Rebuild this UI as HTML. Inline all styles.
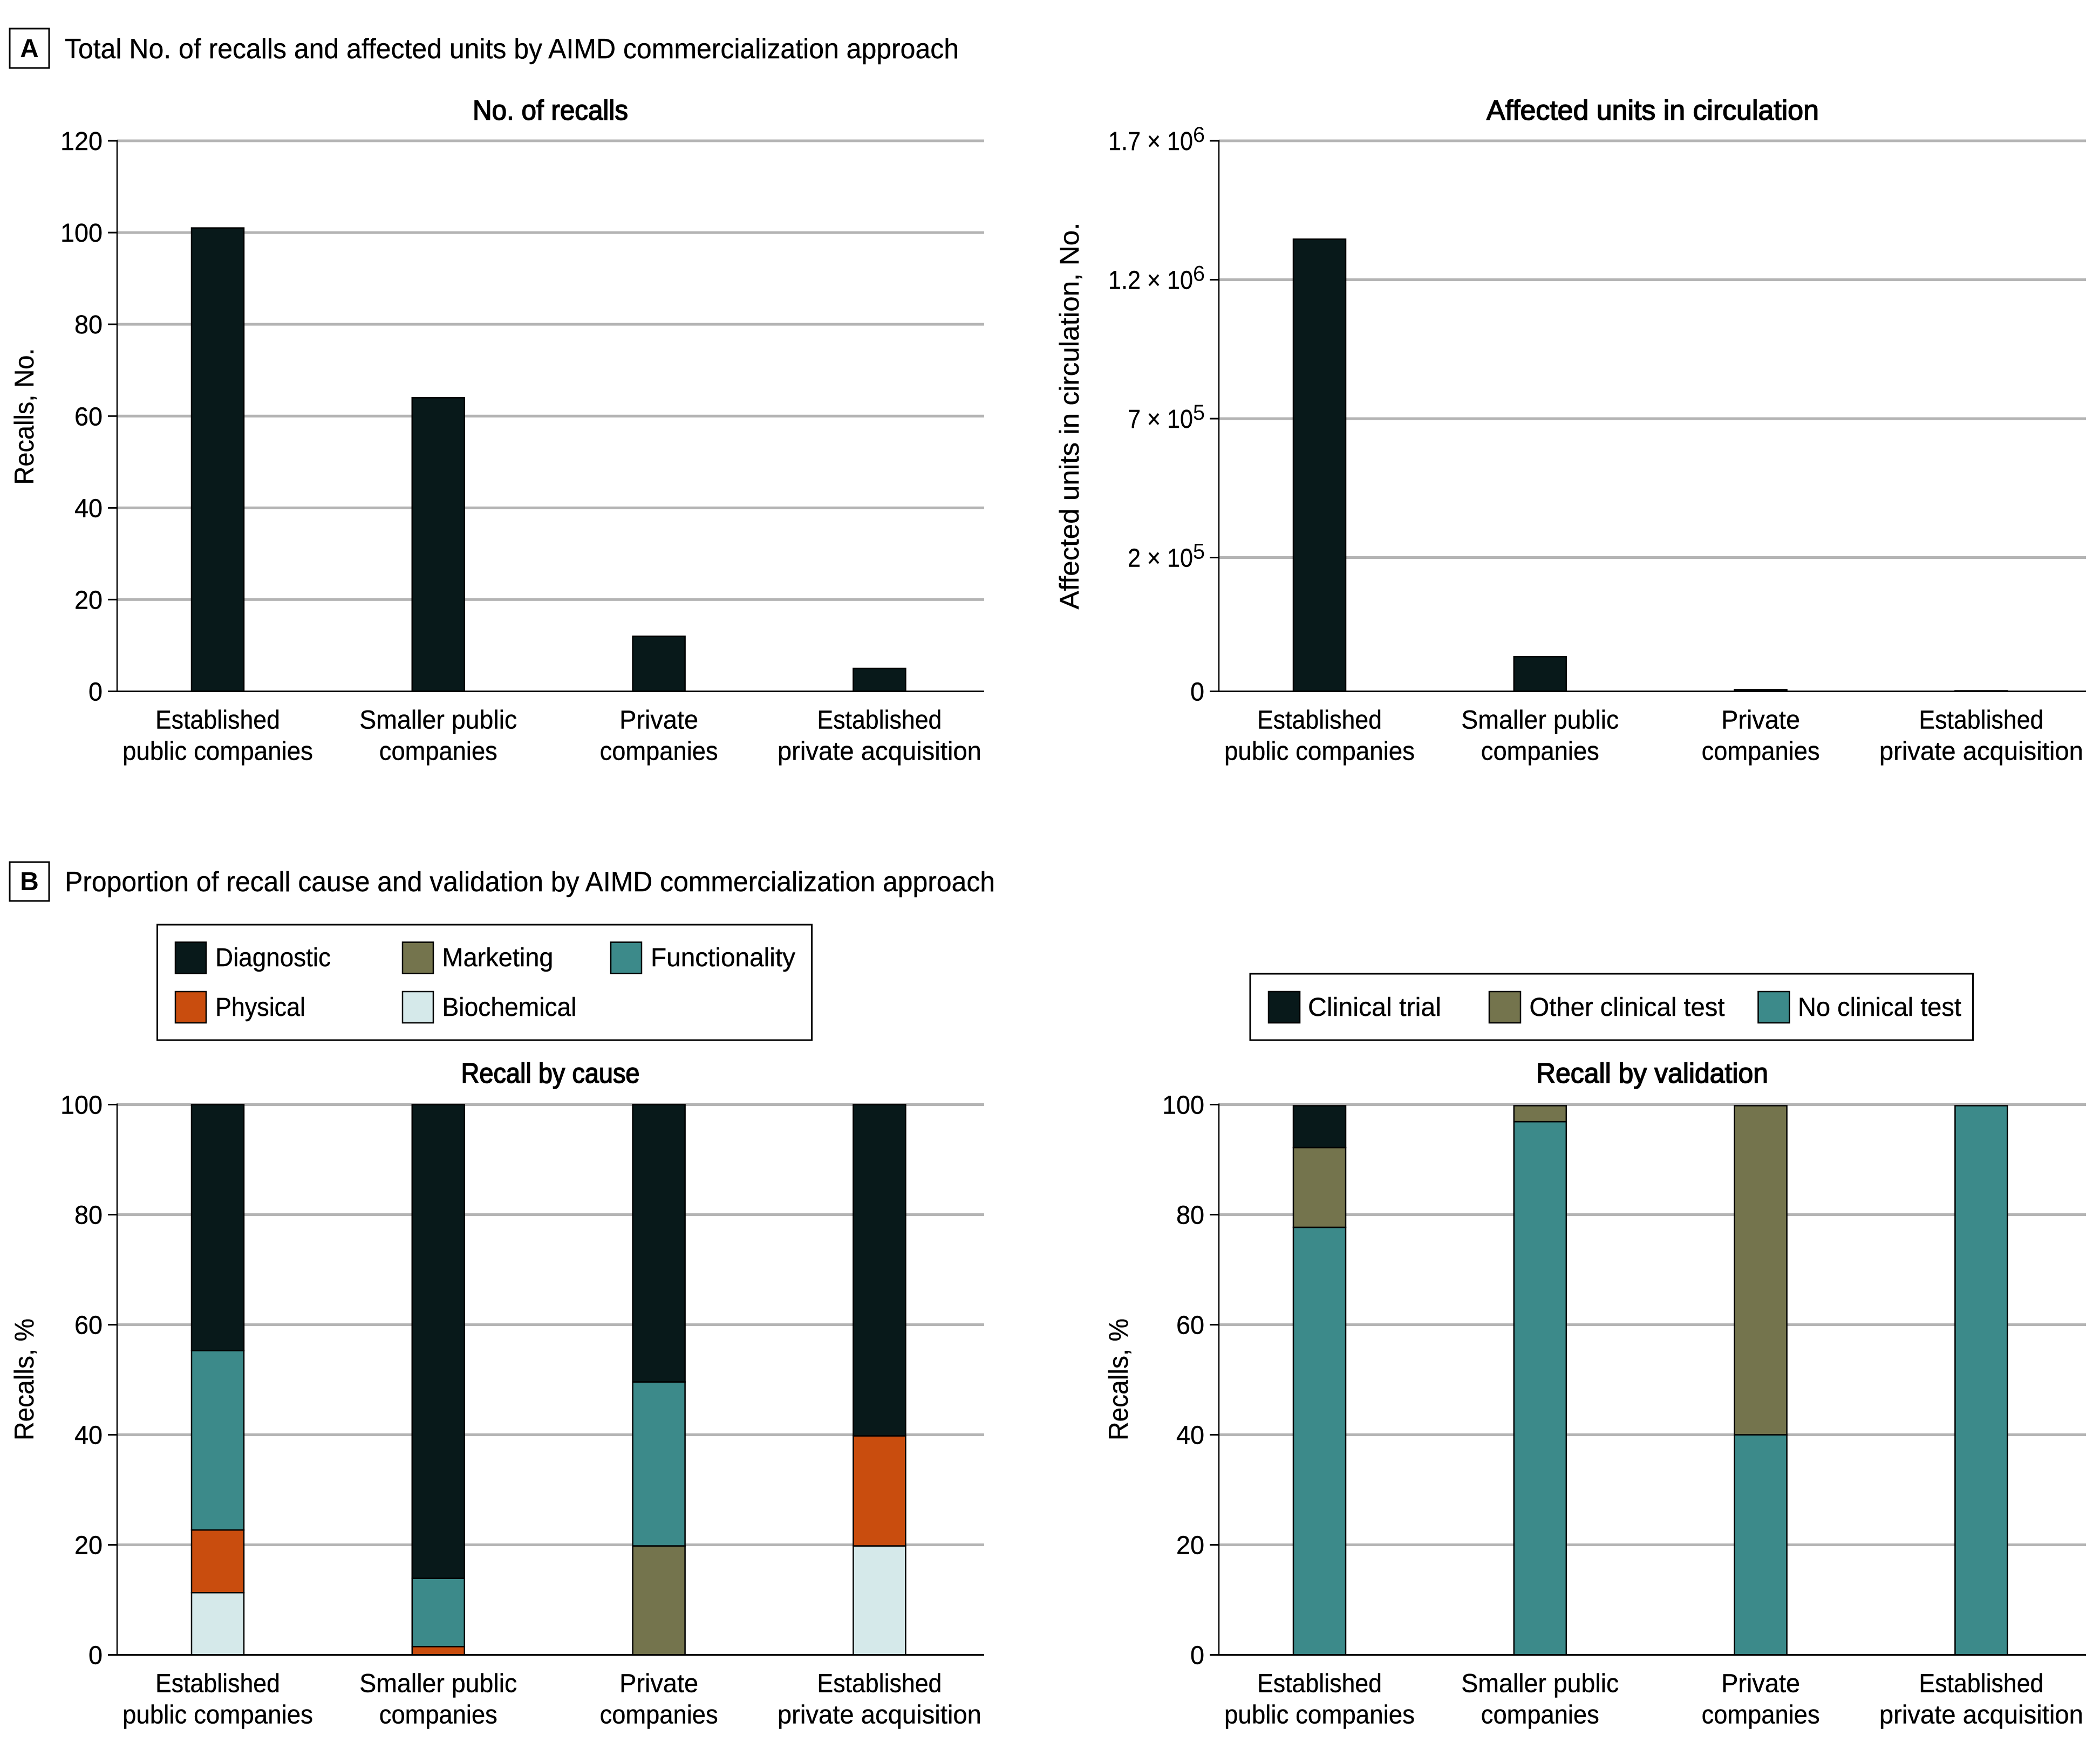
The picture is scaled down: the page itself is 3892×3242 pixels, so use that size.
<!DOCTYPE html>
<html lang="en">
<head>
<meta charset="utf-8">
<title>AIMD recalls by commercialization approach</title>
<style>
  html,body{margin:0;padding:0;background:#fff;}
  svg{display:block;}
  text{font-family:"Liberation Sans",Arial,sans-serif;fill:#000;}
  .head{font-size:52px;stroke:#000;stroke-width:.4px;}
  .sub{font-size:52px;stroke:#000;stroke-width:1.6px;}
  .lbl{font-size:48px;stroke:#000;stroke-width:.4px;}
  .ytitle{font-size:50px;stroke:#000;stroke-width:.4px;}
  .letter{font-size:48px;font-weight:bold;}
</style>
</head>
<body>
<svg id="figure" xmlns="http://www.w3.org/2000/svg" width="3892" height="3242" viewBox="0 0 3892 3242">
  <rect x="0" y="0" width="3892" height="3242" fill="#fff"/>

  <g>
    <rect x="18" y="53" width="73" height="73" fill="#fff" stroke="#000" stroke-width="3"/>
    <text class="letter" x="54.5" y="106" text-anchor="middle">A</text>
    <text class="head" x="120" y="108" textLength="1657" lengthAdjust="spacingAndGlyphs">Total No. of recalls and affected units by AIMD commercialization approach</text>
  </g>
  <g>
    <rect x="18" y="1598" width="73" height="72" fill="#fff" stroke="#000" stroke-width="3"/>
    <text class="letter" x="54.5" y="1650" text-anchor="middle">B</text>
    <text class="head" x="120" y="1652" textLength="1724" lengthAdjust="spacingAndGlyphs">Proportion of recall cause and validation by AIMD commercialization approach</text>
  </g>

  <text class="sub" x="1020" y="222" text-anchor="middle" textLength="288" lengthAdjust="spacingAndGlyphs">No. of recalls</text>
  <text class="sub" x="3063" y="222" text-anchor="middle" textLength="616" lengthAdjust="spacingAndGlyphs">Affected units in circulation</text>
  <text class="sub" x="1020" y="2007" text-anchor="middle" textLength="331" lengthAdjust="spacingAndGlyphs">Recall by cause</text>
  <text class="sub" x="3062" y="2007" text-anchor="middle" textLength="430" lengthAdjust="spacingAndGlyphs">Recall by validation</text>

  <text class="ytitle" transform="translate(62,772) rotate(-90)" text-anchor="middle" textLength="253" lengthAdjust="spacingAndGlyphs">Recalls, No.</text>
  <text class="ytitle" transform="translate(1999,771) rotate(-90)" text-anchor="middle" textLength="717" lengthAdjust="spacingAndGlyphs">Affected units in circulation, No.</text>
  <text class="ytitle" transform="translate(62,2557) rotate(-90)" text-anchor="middle" textLength="226" lengthAdjust="spacingAndGlyphs">Recalls, %</text>
  <text class="ytitle" transform="translate(2090,2557) rotate(-90)" text-anchor="middle" textLength="226" lengthAdjust="spacingAndGlyphs">Recalls, %</text>

  <g>
    <rect x="291.5" y="1714" width="1213" height="214" fill="#fff" stroke="#000" stroke-width="3"/>
    <g>
      <rect x="325" y="1746.5" width="57" height="58" fill="#08191a" stroke="#000" stroke-width="2.5"/>
      <text class="lbl" x="399" y="1791" textLength="214" lengthAdjust="spacingAndGlyphs">Diagnostic</text>
    </g>
    <g>
      <rect x="746" y="1746.5" width="57" height="58" fill="#74744d" stroke="#000" stroke-width="2.5"/>
      <text class="lbl" x="819.5" y="1791" textLength="206" lengthAdjust="spacingAndGlyphs">Marketing</text>
    </g>
    <g>
      <rect x="1132" y="1746.5" width="57" height="58" fill="#3c8a8a" stroke="#000" stroke-width="2.5"/>
      <text class="lbl" x="1206" y="1791" textLength="268" lengthAdjust="spacingAndGlyphs">Functionality</text>
    </g>
    <g>
      <rect x="325" y="1838" width="57" height="58" fill="#c94d0e" stroke="#000" stroke-width="2.5"/>
      <text class="lbl" x="399" y="1883" textLength="167" lengthAdjust="spacingAndGlyphs">Physical</text>
    </g>
    <g>
      <rect x="746" y="1838" width="57" height="58" fill="#d5e9ea" stroke="#000" stroke-width="2.5"/>
      <text class="lbl" x="819.5" y="1883" textLength="249" lengthAdjust="spacingAndGlyphs">Biochemical</text>
    </g>
  </g>

  <g>
    <rect x="2317" y="1805" width="1339.5" height="123" fill="#fff" stroke="#000" stroke-width="3"/>
    <g>
      <rect x="2351" y="1838" width="58" height="58" fill="#08191a" stroke="#000" stroke-width="2.5"/>
      <text class="lbl" x="2424" y="1883" textLength="247" lengthAdjust="spacingAndGlyphs">Clinical trial</text>
    </g>
    <g>
      <rect x="2760" y="1838" width="58" height="58" fill="#74744d" stroke="#000" stroke-width="2.5"/>
      <text class="lbl" x="2834.5" y="1883" textLength="362" lengthAdjust="spacingAndGlyphs">Other clinical test</text>
    </g>
    <g>
      <rect x="3258.5" y="1838" width="58" height="58" fill="#3c8a8a" stroke="#000" stroke-width="2.5"/>
      <text class="lbl" x="3332" y="1883" textLength="303" lengthAdjust="spacingAndGlyphs">No clinical test</text>
    </g>
  </g>
</svg>

<script>
// ---- Data ----
const categoryFirstLines = ["Established", "Smaller public", "Private", "Established"];
const categorySecondLines = ["public companies", "companies", "companies", "private acquisition"];

const recallCounts = [101, 64, 12, 5];
const recallTickValues = [0, 20, 40, 60, 80, 100, 120];
const recallTickLabels = ["0", "20", "40", "60", "80", "100", "120"];

const affectedUnits = [1346000, 51900, 2500, 800];
const unitTickValues = [0, 200000, 700000, 1200000, 1700000];
const unitTickLabels = ["0", "2 × 10", "7 × 10", "1.2 × 10", "1.7 × 10"];
const unitTickExponents = ["", "5", "5", "6", "6"];

const percentTickValues = [0, 20, 40, 60, 80, 100];
const percentTickLabels = ["0", "20", "40", "60", "80", "100"];

// Recall by cause, % of recalls per category (stacked bottom to top)
const causeBiochemical = [11.3, 0, 0, 19.8];
const causeMarketing = [0, 0, 19.8, 0];
const causePhysical = [11.4, 1.5, 0, 20];
const causeFunctionality = [32.6, 12.4, 29.8, 0];
const causeDiagnostic = [44.7, 86.1, 50.4, 60.2];

// Recall by validation, % of recalls per category (stacked bottom to top)
const validationNoTest = [77.7, 96.9, 40, 99.8];
const validationOtherTest = [14.5, 2.9, 59.8, 0];
const validationTrial = [7.6, 0, 0, 0];

// ---- Styles and layout ----
const COLOR_DARK = "#08191a", COLOR_OLIVE = "#74744d", COLOR_TEAL = "#3c8a8a",
      COLOR_ORANGE = "#c94d0e", COLOR_PALE = "#d5e9ea";
const PLOT_WIDTH = 1607, FIRST_BAND = 186.5, BAND_STEP = 408.8, BAR_WIDTH = 97;
const UNIT_BREAK_Y = 1033.5;
const tickTextWidths = {"1.2 × 10": 157, "1.7 × 10": 157, "2 × 10": 121, "7 × 10": 121};
const categoryTextWidths = {
  "Established": 231, "Smaller public": 292, "Private": 146,
  "public companies": 353, "companies": 219, "private acquisition": 378
};

const svg = document.getElementById("figure");
const NS = "http://www.w3.org/2000/svg";

function make(tag, parent, props) {
  const el = document.createElementNS(NS, tag);
  for (const key in props) el.setAttribute(key, props[key]);
  parent.appendChild(el);
  return el;
}

function linearAxis(domainMax, top, bottom) {
  return v => bottom - (v / domainMax) * (bottom - top);
}

// The affected-units axis is linear above its first nonzero tick and has its own
// compressed segment between that tick and zero.
function brokenAxis(values, top, breakY, bottom) {
  const low = values[1], high = values[values.length - 1];
  return v => v <= low
    ? bottom - (v / low) * (bottom - breakY)
    : breakY - ((v - low) / (high - low)) * (breakY - top);
}

function bandCenter(left, i) {
  return left + FIRST_BAND + BAND_STEP * i;
}

function drawAxes(chart, left, top, bottom, tickValues, tickLabels, y) {
  const right = left + PLOT_WIDTH;
  const root = make("g", svg, {});
  
  

  tickValues.forEach((v, i) => {
    if (v === 0) return;
    const grid = make("line", root, {x1: left, x2: right, y1: y(v), y2: y(v), stroke: "#b4b4b4", "stroke-width": 5});
    
    
  });
  const bars = make("g", root, {});
  
  

  const axis = make("line", root, {x1: left, x2: left, y1: top - 2, y2: bottom, stroke: "#000", "stroke-width": 2.5});
  
  
  const base = make("line", root, {x1: left - 17, x2: right, y1: bottom, y2: bottom, stroke: "#000", "stroke-width": 3});
  
  

  tickValues.forEach((v, i) => {
    const tick = make("line", root, {x1: left - 17, x2: left, y1: y(v), y2: y(v), stroke: "#000", "stroke-width": 3});
    
    
  });

  categoryFirstLines.forEach((first, i) => {
    const cx = bandCenter(left, i);
    const label = make("g", root, {});
    
    
    const t1 = make("text", label, {class: "lbl", x: cx, y: bottom + 69, "text-anchor": "middle",
      textLength: categoryTextWidths[first], lengthAdjust: "spacingAndGlyphs"});
    t1.textContent = first;
    const second = categorySecondLines[i];
    const t2 = make("text", label, {class: "lbl", x: cx, y: bottom + 127, "text-anchor": "middle",
      textLength: categoryTextWidths[second], lengthAdjust: "spacingAndGlyphs"});
    t2.textContent = second;
  });
  return bars;
}

function drawPlainTickLabels(chart, left, tickValues, tickLabels, y) {
  tickValues.forEach((v, i) => {
    const t = make("text", svg, {class: "lbl", x: left - 27, y: y(v) + 17, "text-anchor": "end",
      textLength: tickLabels[i].length * 26, lengthAdjust: "spacingAndGlyphs"});
    
    
    t.textContent = tickLabels[i];
  });
}

function drawBar(parent, left, i, y, from, to, fill, name) {
  const r = make("rect", parent, {
    x: bandCenter(left, i) - BAR_WIDTH / 2, width: BAR_WIDTH,
    y: y(to), height: Math.max(0, y(from) - y(to)),
    fill: fill, stroke: "#000", "stroke-width": 2.5
  });
  
  
}

function drawStacks(parent, left, y, series) {
  categoryFirstLines.forEach((_, i) => {
    let running = 0;
    series.forEach(s => {
      const v = s.values[i];
      if (v > 0) drawBar(parent, left, i, y, running, running + v, s.fill, "bar-" + s.key + "-" + i);
      running += v;
    });
  });
}

// ---- Panel A: number of recalls ----
const LEFT_A1 = 217, TOP_A = 261, BOTTOM_A = 1281.5;
const yRecalls = linearAxis(120, TOP_A, BOTTOM_A);
const recallBars = drawAxes("recalls", LEFT_A1, TOP_A, BOTTOM_A, recallTickValues, recallTickLabels, yRecalls);
recallCounts.forEach((v, i) => drawBar(recallBars, LEFT_A1, i, yRecalls, 0, v, COLOR_DARK, "bar-recalls-" + i));
drawPlainTickLabels("recalls", LEFT_A1, recallTickValues, recallTickLabels, yRecalls);

// ---- Panel A: affected units ----
const LEFT_A2 = 2259;
const yUnits = brokenAxis(unitTickValues, TOP_A, UNIT_BREAK_Y, BOTTOM_A);
const unitBars = drawAxes("units", LEFT_A2, TOP_A, BOTTOM_A, unitTickValues, unitTickLabels, yUnits);
affectedUnits.forEach((v, i) => drawBar(unitBars, LEFT_A2, i, yUnits, 0, v, COLOR_DARK, "bar-units-" + i));
unitTickValues.forEach((v, i) => {
  const hasExp = unitTickExponents[i] !== "";
  const props = {class: "lbl", x: hasExp ? LEFT_A2 - 48 : LEFT_A2 - 27, y: yUnits(v) + 17, "text-anchor": "end"};
  if (hasExp) {
    props.textLength = tickTextWidths[unitTickLabels[i]];
    props.lengthAdjust = "spacingAndGlyphs";
  } else {
    props.textLength = 26;
    props.lengthAdjust = "spacingAndGlyphs";
  }
  const t = make("text", svg, props);
  
  
  t.textContent = unitTickLabels[i];
  if (hasExp) {
    const e = make("text", svg, {x: LEFT_A2 - 48, y: yUnits(v) + 2, "font-size": 40, textLength: 22, lengthAdjust: "spacingAndGlyphs"});
    
    
    e.textContent = unitTickExponents[i];
  }
});

// ---- Panel B: recall by cause ----
const LEFT_B1 = 217, TOP_B = 2047.5, BOTTOM_B = 3067.5;
const yCause = linearAxis(100, TOP_B, BOTTOM_B);
const causeBars = drawAxes("cause", LEFT_B1, TOP_B, BOTTOM_B, percentTickValues, percentTickLabels, yCause);
drawStacks(causeBars, LEFT_B1, yCause, [
  {key: "biochemical", values: causeBiochemical, fill: COLOR_PALE},
  {key: "marketing", values: causeMarketing, fill: COLOR_OLIVE},
  {key: "physical", values: causePhysical, fill: COLOR_ORANGE},
  {key: "functionality", values: causeFunctionality, fill: COLOR_TEAL},
  {key: "diagnostic", values: causeDiagnostic, fill: COLOR_DARK}
]);
drawPlainTickLabels("cause", LEFT_B1, percentTickValues, percentTickLabels, yCause);

// ---- Panel B: recall by validation ----
const LEFT_B2 = 2259;
const yValidation = linearAxis(100, TOP_B, BOTTOM_B);
const validationBars = drawAxes("validation", LEFT_B2, TOP_B, BOTTOM_B, percentTickValues, percentTickLabels, yValidation);
drawStacks(validationBars, LEFT_B2, yValidation, [
  {key: "no-clinical-test", values: validationNoTest, fill: COLOR_TEAL},
  {key: "other-clinical-test", values: validationOtherTest, fill: COLOR_OLIVE},
  {key: "clinical-trial", values: validationTrial, fill: COLOR_DARK}
]);
drawPlainTickLabels("validation", LEFT_B2, percentTickValues, percentTickLabels, yValidation);
</script>
</body>
</html>
